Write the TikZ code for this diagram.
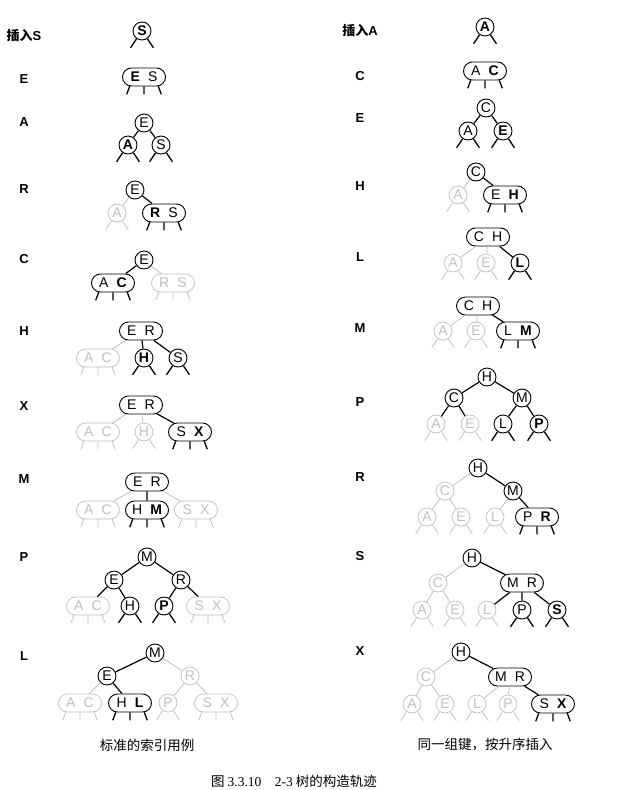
\documentclass[tikz,border=0pt]{standalone}
\usepackage{fontspec}
\setmainfont{Liberation Serif}
\newfontfamily\keyfont{Liberation Sans}
\newfontfamily\cjk{Noto Sans CJK SC}
\usepackage{tikz}
\usetikzlibrary{shapes.misc}
\tikzset{>=latex}

\tikzset{
  key/.style={circle,draw,line width=0.9pt,minimum size=18pt,inner sep=0pt,
    font=\keyfont\fontsize{14}{14}\selectfont},
  pair/.style={rounded rectangle,draw,line width=0.9pt,minimum width=43pt,
    minimum height=18pt,inner sep=0pt,font=\keyfont\fontsize{14}{14}\selectfont},
  faint/.style={draw=gray!50,text=gray!50,line width=0.7pt},
  branch/.style={line width=1.2pt},
  dim/.style={draw=gray!50,line width=0.8pt},
  stub/.style={line width=1.3pt},
  lbl/.style={font=\keyfont\bfseries\fontsize{13}{13}\selectfont},
  captxt/.style={font=\cjk\fontsize{13.5}{14}\selectfont}
}
\newcommand{\gap}{\hspace{0.58em}}
\newcommand{\twostubs}[2][]{\draw[stub,#1] (#2.-125) -- ++(-6,9) (#2.-55) -- ++(6,9);}
\newcommand{\threestubs}[2][]{\draw[stub,#1] (#2.-147) -- ++(-3,8) (#2.south) -- ++(0,8) (#2.-33) -- ++(3,8);}

\begin{document}
\begin{tikzpicture}[x=1pt,y=-1pt]
    \useasboundingbox (0,0) rectangle (623,790);
    % standard indexing client
    \node[lbl] (l1) at (24,36) {{\cjk 插入}S};
    \node[key] (l1s) at (142,31) {\textbf{S}};
    \twostubs{l1s}

    \node[lbl] (l2) at (24,79) {E};
    \node[pair] (l2es) at (144,77) {\textbf{E}\gap S};
    \threestubs{l2es}

    \node[lbl] (l3) at (24,122) {A};
    \node[key] (l3e) at (144,123) {E};
    \node[key] (l3a) at (128,145) {\textbf{A}};
    \node[key] (l3s) at (161,145) {S};
    \draw[branch] (l3e) -- (l3a) (l3e) -- (l3s);
    \foreach \n in {l3a,l3s} {\twostubs{\n}}

    \node[lbl] (l4) at (24,189) {R};
    \node[key] (l4e) at (135,190) {E};
    \node[key,faint] (l4a) at (117,213) {A};
    \node[pair] (l4rs) at (164,213) {\textbf{R}\gap S};
    \draw[dim] (l4e) -- (l4a);
    \draw[branch] (l4e) -- (l4rs);
    \twostubs[dim]{l4a}
    \threestubs{l4rs}

    \node[lbl] (l5) at (24,259) {C};
    \node[key] (l5e) at (144,260) {E};
    \node[pair] (l5ac) at (113,283) {A\gap\textbf{C}};
    \node[pair,faint] (l5rs) at (173,283) {R\gap S};
    \draw[branch] (l5e) -- (l5ac);
    \draw[dim] (l5e) -- (l5rs);
    \threestubs{l5ac}
    \threestubs[dim]{l5rs}

    \node[lbl] (l6) at (24,331) {H};
    \node[pair] (l6er) at (141,331) {E\gap R};
    \node[pair,faint] (l6ac) at (98,358) {A\gap C};
    \node[key] (l6h) at (144,358) {\textbf{H}};
    \node[key] (l6s) at (178,358) {S};
    \draw[dim] (l6er) -- (l6ac);
    \draw[branch] (l6er) -- (l6h) (l6er) -- (l6s);
    \threestubs[dim]{l6ac}
    \foreach \n in {l6h,l6s} {\twostubs{\n}}

    \node[lbl] (l7) at (24,406) {X};
    \node[pair] (l7er) at (141,405) {E\gap R};
    \node[pair,faint] (l7ac) at (98,432) {A\gap C};
    \node[key,faint] (l7h) at (144,432) {H};
    \node[pair] (l7sx) at (190,432) {S\gap\textbf{X}};
    \draw[dim] (l7er) -- (l7ac) (l7er) -- (l7h);
    \draw[branch] (l7er) -- (l7sx);
    \threestubs[dim]{l7ac}
    \twostubs[dim]{l7h}
    \threestubs{l7sx}

    \node[lbl] (l8) at (24,479) {M};
    \node[pair] (l8er) at (147,482) {E\gap R};
    \node[pair,faint] (l8ac) at (98,510) {A\gap C};
    \node[pair] (l8hm) at (147,510) {H\gap\textbf{M}};
    \node[pair,faint] (l8sx) at (196,510) {S\gap X};
    \draw[dim] (l8er) -- (l8ac) (l8er) -- (l8sx);
    \draw[branch] (l8er) -- (l8hm);
    \foreach \n in {l8ac,l8sx} {\threestubs[dim]{\n}}
    \threestubs{l8hm}

    \node[lbl] (l9) at (24,557) {P};
    \node[key] (l9m) at (147,557) {M};
    \node[key] (l9e) at (114,580) {E};
    \node[key] (l9r) at (181,580) {R};
    \node[pair,faint] (l9ac) at (88,606) {A\gap C};
    \node[key] (l9h) at (130,606) {H};
    \node[key] (l9p) at (164,606) {\textbf{P}};
    \node[pair,faint] (l9sx) at (208,606) {S\gap X};
    \draw[branch] (l9m) -- (l9e) (l9m) -- (l9r) (l9e) -- (l9ac) (l9e) -- (l9h)
      (l9r) -- (l9p) (l9r) -- (l9sx);
    \foreach \n in {l9ac,l9sx} {\threestubs[dim]{\n}}
    \foreach \n in {l9h,l9p} {\twostubs{\n}}

    \node[lbl] (l10) at (24,656) {L};
    \node[key] (l10m) at (155,653) {M};
    \node[key] (l10e) at (107,676) {E};
    \node[key,faint] (l10r) at (190,676) {R};
    \node[pair,faint] (l10ac) at (80,703) {A\gap C};
    \node[pair] (l10hl) at (130,703) {H\gap\textbf{L}};
    \node[key,faint] (l10p) at (168,703) {P};
    \node[pair,faint] (l10sx) at (216,703) {S\gap X};
    \draw[branch] (l10m) -- (l10e) (l10e) -- (l10hl);
    \draw[dim] (l10m) -- (l10r) (l10e) -- (l10ac) (l10r) -- (l10p) (l10r) -- (l10sx);
    \foreach \n in {l10ac,l10sx} {\threestubs[dim]{\n}}
    \twostubs[dim]{l10p}
    \threestubs{l10hl}

    % same keys in increasing order
    \node[lbl] (r1) at (360,31) {{\cjk 插入}A};
    \node[key] (r1a) at (485,27) {\textbf{A}};
    \twostubs{r1a}

    \node[lbl] (r2) at (360,76) {C};
    \node[pair] (r2ac) at (485,71) {A\gap\textbf{C}};
    \threestubs{r2ac}

    \node[lbl] (r3) at (360,118) {E};
    \node[key] (r3c) at (486,108) {C};
    \node[key] (r3a) at (468,131) {A};
    \node[key] (r3e) at (503,131) {\textbf{E}};
    \draw[branch] (r3c) -- (r3a) (r3c) -- (r3e);
    \foreach \n in {r3a,r3e} {\twostubs{\n}}

    \node[lbl] (r4) at (360,186) {H};
    \node[key] (r4c) at (476,172) {C};
    \node[key,faint] (r4a) at (458,195) {A};
    \node[pair] (r4eh) at (505,195) {E\gap\textbf{H}};
    \draw[dim] (r4c) -- (r4a);
    \draw[branch] (r4c) -- (r4eh);
    \twostubs[dim]{r4a}
    \threestubs{r4eh}

    \node[lbl] (r5) at (360,257) {L};
    \node[pair] (r5ch) at (488,237) {C\gap H};
    \node[key,faint] (r5a) at (453,263) {A};
    \node[key,faint] (r5e) at (486,263) {E};
    \node[key] (r5l) at (520,263) {\textbf{L}};
    \draw[dim] (r5ch) -- (r5a) (r5ch) -- (r5e);
    \draw[branch] (r5ch) -- (r5l);
    \foreach \n in {r5a,r5e} {\twostubs[dim]{\n}}
    \twostubs{r5l}

    \node[lbl] (r6) at (360,328) {M};
    \node[pair] (r6ch) at (478,306) {C\gap H};
    \node[key,faint] (r6a) at (443,331) {A};
    \node[key,faint] (r6e) at (476,331) {E};
    \node[pair] (r6lm) at (518,331) {L\gap\textbf{M}};
    \draw[dim] (r6ch) -- (r6a) (r6ch) -- (r6e);
    \draw[branch] (r6ch) -- (r6lm);
    \foreach \n in {r6a,r6e} {\twostubs[dim]{\n}}
    \threestubs{r6lm}

    \node[lbl] (r7) at (360,402) {P};
    \node[key] (r7h) at (487,377) {H};
    \node[key] (r7c) at (454,398) {C};
    \node[key] (r7m) at (522,398) {M};
    \node[key,faint] (r7a) at (436,424) {A};
    \node[key,faint] (r7e) at (470,424) {E};
    \node[key] (r7l) at (503,424) {L};
    \node[key] (r7p) at (539,424) {\textbf{P}};
    \draw[branch] (r7h) -- (r7c) (r7h) -- (r7m) (r7c) -- (r7a) (r7c) -- (r7e)
      (r7m) -- (r7l) (r7m) -- (r7p);
    \foreach \n in {r7a,r7e} {\twostubs[dim]{\n}}
    \foreach \n in {r7l,r7p} {\twostubs{\n}}

    \node[lbl] (r8) at (360,477) {R};
    \node[key] (r8h) at (478,468) {H};
    \node[key,faint] (r8c) at (445,491) {C};
    \node[key] (r8m) at (513,491) {M};
    \node[key,faint] (r8a) at (427,517) {A};
    \node[key,faint] (r8e) at (461,517) {E};
    \node[key,faint] (r8l) at (495,517) {L};
    \node[pair] (r8pr) at (537,517) {P\gap\textbf{R}};
    \draw[dim] (r8h) -- (r8c) (r8c) -- (r8a) (r8c) -- (r8e) (r8m) -- (r8l);
    \draw[branch] (r8h) -- (r8m) (r8m) -- (r8pr);
    \foreach \n in {r8a,r8e,r8l} {\twostubs[dim]{\n}}
    \threestubs{r8pr}

    \node[lbl] (r9) at (360,556) {S};
    \node[key] (r9h) at (472,558) {H};
    \node[key,faint] (r9c) at (438,583) {C};
    \node[pair] (r9mr) at (522,583) {M\gap R};
    \node[key,faint] (r9a) at (422,610) {A};
    \node[key,faint] (r9e) at (455,610) {E};
    \node[key,faint] (r9l) at (487,610) {L};
    \node[key] (r9p) at (522,610) {P};
    \node[key] (r9s) at (557,610) {\textbf{S}};
    \draw[dim] (r9h) -- (r9c) (r9c) -- (r9a) (r9c) -- (r9e);
    \draw[branch] (r9h) -- (r9mr) (r9mr) -- (r9l) (r9mr) -- (r9p) (r9mr) -- (r9s);
    \foreach \n in {r9a,r9e,r9l} {\twostubs[dim]{\n}}
    \foreach \n in {r9p,r9s} {\twostubs{\n}}

    \node[lbl] (r10) at (360,651) {X};
    \node[key] (r10h) at (461,652) {H};
    \node[key,faint] (r10c) at (426,677) {C};
    \node[pair] (r10mr) at (510,677) {M\gap R};
    \node[key,faint] (r10a) at (412,704) {A};
    \node[key,faint] (r10e) at (445,704) {E};
    \node[key,faint] (r10l) at (477,704) {L};
    \node[key,faint] (r10p) at (508,704) {P};
    \node[pair] (r10sx) at (553,704) {S\gap\textbf{X}};
    \draw[dim] (r10h) -- (r10c) (r10c) -- (r10a) (r10c) -- (r10e)
      (r10mr) -- (r10l) (r10mr) -- (r10p);
    \draw[branch] (r10h) -- (r10mr) (r10mr) -- (r10sx);
    \foreach \n in {r10a,r10e,r10l,r10p} {\twostubs[dim]{\n}}
    \threestubs{r10sx}

    % captions
    \node[captxt] (capl) at (147,745) {标准的索引用例};
    \node[captxt] (capr) at (485,745) {同一组键，按升序插入};
    \node[captxt] (fig) at (294,781) {图 {\rmfamily 3.3.10}\quad{\rmfamily 2-3} 树的构造轨迹};
\end{tikzpicture}
\end{document}
